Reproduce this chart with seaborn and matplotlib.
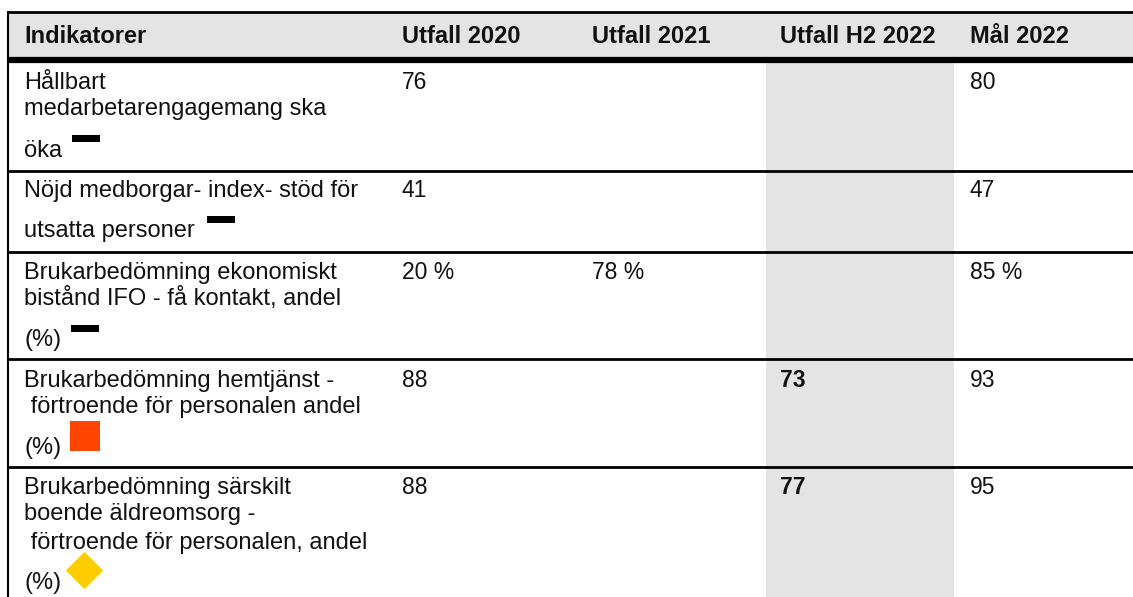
import matplotlib
matplotlib.use("Agg")
import matplotlib.pyplot as plt
import seaborn as sns
from matplotlib.patches import Rectangle

# Table content
headers = ["Indikatorer", "Utfall 2020", "Utfall 2021", "Utfall H2 2022", "Mål 2022"]
indicators = [
    ["Hållbart", "medarbetarengagemang ska", "öka"],
    ["Nöjd medborgar- index- stöd för", "utsatta personer"],
    ["Brukarbedömning ekonomiskt", "bistånd IFO - få kontakt, andel", "(%)"],
    ["Brukarbedömning hemtjänst -", " förtroende för personalen andel", "(%)"],
    ["Brukarbedömning särskilt", "boende äldreomsorg -", " förtroende för personalen, andel", "(%)"],
]
utfall_2020 = ["76", "41", "20 %", "88", "88"]
utfall_2021 = ["", "", "78 %", "", ""]
utfall_h2_2022 = ["", "", "", "73", "77"]
mal_2022 = ["80", "47", "85 %", "93", "95"]
status = ["dash", "dash", "dash", "square", "diamond"]

# layout (pixel units, baselines)
W, H = 1133, 597
col_x = [24, 402, 592, 780, 970]
row_edges = [60, 171, 252, 359, 467, 640]
line_y = [
    [89, 115, 157],
    [197, 237],
    [279, 305, 346],
    [387, 413, 454],
    [494, 520, 549, 589],
]
marker_pos = [(86, 138), (221, 219), (85, 328), (85, 436), (84, 570)]

sns.set_theme(style="white")
plt.rcParams['font.family'] = ['Liberation Sans', 'DejaVu Sans']

fig = plt.figure(figsize=(W / 100, H / 100), dpi=100)
ax = fig.add_axes([0, 0, 1, 1])
ax.set_xlim(0, W)
ax.set_ylim(H, 0)
ax.axis("off")

# header background and grey column
ax.add_patch(Rectangle((8, 12), W - 8, 48, color="#e4e4e4", lw=0))
ax.add_patch(Rectangle((766, 62), 188, H - 62, color="#e4e4e4", lw=0))

# borders
ax.plot([8, W], [12, 12], color="black", lw=2, solid_capstyle="butt")
ax.plot([8, W], [60, 60], color="black", lw=4.5, solid_capstyle="butt")
ax.plot([8, 8], [11, H], color="black", lw=1.5, solid_capstyle="butt")
for y in row_edges[1:-1]:
    ax.plot([8, W], [y, y], color="black", lw=2, solid_capstyle="butt")

# header text
for i, h in enumerate(headers):
    ax.text(col_x[i], 43, h, fontsize=17, fontweight="bold", va="baseline",
            ha="left", color="#111111")

# body
for r, lines in enumerate(indicators):
    for ln, y in zip(lines, line_y[r]):
        ax.text(col_x[0], y, ln, fontsize=17, va="baseline", ha="left", color="#111111")
    y0 = line_y[r][0]
    for c, vals in enumerate([utfall_2020, utfall_2021, utfall_h2_2022, mal_2022], start=1):
        ax.text(col_x[c], y0, vals[r], fontsize=16.5, va="baseline", ha="left",
                fontweight="bold" if c == 3 else "normal", color="#111111")

# status markers
for (mx, my), s in zip(marker_pos, status):
    if s == "dash":
        ax.add_patch(Rectangle((mx - 14, my - 3.5), 28, 7, color="black", lw=0))
    elif s == "square":
        ax.scatter([mx], [my], marker="s", s=450, color="#ff4500", linewidths=0)
    else:
        ax.scatter([mx], [my], marker="D", s=360, color="#ffcc00", linewidths=0)

fig.savefig("out.png", dpi=100)
